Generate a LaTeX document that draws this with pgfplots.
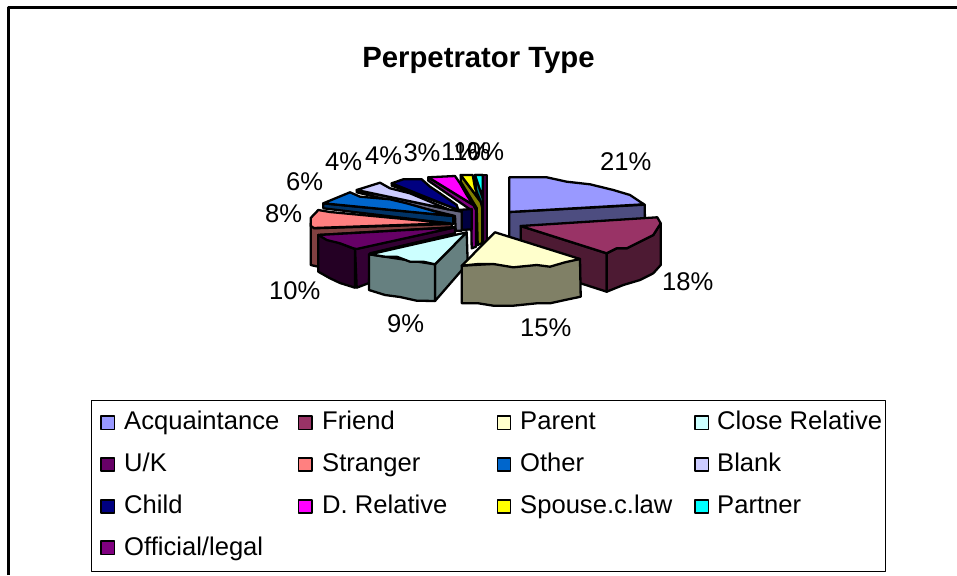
\documentclass[border=0pt]{standalone}
\usepackage{pgfplots}
\pgfplotsset{compat=1.18}
\usepackage{fontspec}
\setmainfont{Liberation Sans}
\definecolor{cA}{HTML}{9999FF}\definecolor{sA}{HTML}{4D4D80}
\definecolor{cB}{HTML}{993366}\definecolor{sB}{HTML}{4D1A33}
\definecolor{cC}{HTML}{FFFFCC}\definecolor{sC}{HTML}{808066}
\definecolor{cD}{HTML}{CCFFFF}\definecolor{sD}{HTML}{668080}
\definecolor{cE}{HTML}{660066}\definecolor{sE}{HTML}{330033}
\definecolor{cF}{HTML}{FF8080}\definecolor{sF}{HTML}{804040}
\definecolor{cG}{HTML}{0066CC}\definecolor{sG}{HTML}{003366}
\definecolor{cH}{HTML}{CCCCFF}\definecolor{sH}{HTML}{666680}
\definecolor{cI}{HTML}{000080}\definecolor{sI}{HTML}{000040}
\definecolor{cJ}{HTML}{FF00FF}\definecolor{sJ}{HTML}{800080}
\definecolor{cK}{HTML}{FFFF00}\definecolor{sK}{HTML}{808000}
\definecolor{cL}{HTML}{00FFFF}\definecolor{sL}{HTML}{008080}
\definecolor{cM}{HTML}{800080}\definecolor{sM}{HTML}{400040}
\begin{document}
\begin{tikzpicture}
\path[use as bounding box] (0,0) rectangle (957pt,575pt);
\begin{axis}[
  at={(0pt,0pt)},anchor=south west,
  width=957pt,height=575pt,scale only axis,
  xmin=0,xmax=957,ymin=0,ymax=575,y dir=reverse,
  hide axis,clip=true,
  every axis plot/.append style={line width=2.3pt,draw=black,line join=round,mark=none},
]
% frame and legend box
\addplot[line width=2.6pt,draw=black,no marks] coordinates {(8.5,575)(8.5,7.5)(957,7.5)};
\addplot[line width=1pt,draw=black,fill=white] coordinates {(91,400)(885,400)(885,571)(91,571)} -- cycle;

% Official/legal
\addplot[fill=sM] coordinates {(482.7,175)(487.3,175)(487.3,243)(482.7,243)} -- cycle;
% Partner
\addplot[fill=sL] coordinates {(475,175)(482.7,175)(482.7,243)(480,243)} -- cycle;
\addplot[fill=cL] coordinates {(475,175)(482.7,175)(482.7,198)} -- cycle;
% Spouse
\addplot[fill=sK] coordinates {(460.7,175)(480.7,201.7)(482.3,208)(482.3,243)(477.7,245)(476.7,208)(460.7,181.7)} -- cycle;
\addplot[fill=cK] coordinates {(460.7,175)(472.7,175)(475,188)(480.7,201.7)} -- cycle;
% D. Relative
\addplot[fill=sJ] coordinates {(428.3,177.3)(473.3,205)(476,210)(476,246.7)(471.7,248.3)(471,210)(428.3,180.7)} -- cycle;
\addplot[fill=cJ] coordinates {(428.3,177.3)(455,176)(460,183.3)(466.7,195)(473.3,205)} -- cycle;
% Child
\addplot[fill=sI] coordinates {(391.7,183.3)(458.3,210)(471.7,209)(471.7,229.3)(461.7,230)(461.7,210.7)(391.7,185.7)} -- cycle;
\addplot[fill=cI] coordinates {(391.7,183.3)(403.3,179.3)(421.7,179.3)(430,186.7)(440,193.3)(456.7,205)(458.3,210)} -- cycle;
% Blank
\addplot[fill=sH] coordinates {(356.7,190)(448.3,209.3)(461.7,211.7)(461.7,230.7)(455.7,230.7)(455,216)(356.7,192.3)} -- cycle;
\addplot[fill=cH] coordinates {(356.7,190)(380,182.7)(390,188.3)(410,193.3)(430,201.7)(448.3,209.3)} -- cycle;
% Other
\addplot[fill=sG] coordinates {(323.3,203.3)(450,215.7)(453.3,216)(453.3,224)(323.3,208.3)} -- cycle;
\addplot[fill=cG] coordinates {(323.3,203.3)(350,192.3)(360,196.7)(390,199.3)(406.7,203.3)(430,210)(450,215.7)} -- cycle;
% Stranger
\addplot[fill=sF] coordinates {(310.7,223.3)(314,228.3)(451.7,224)(451.7,227.3)(318.3,235)(318.3,266.7)(310.7,265)} -- cycle;
\addplot[fill=cF] coordinates {(318.3,210)(330,212)(450,223.3)(314,228)(310.7,226)(310.7,218)} -- cycle;
% U/K
\addplot[fill=sE] coordinates {(355,249)(455,227.3)(455,233.3)(370,253.3)(369,283)(356.7,287.7)} -- cycle;
\addplot[fill=sE!70!black] coordinates {(318.3,235)(355,249)(355,287.7)(340,283)(330,278.3)(318.3,271.7)} -- cycle;
\addplot[fill=cE] coordinates {(318.3,235)(455,227.3)(356.7,249)(353.3,248.3)(340,243.3)(326.7,240)} -- cycle;
% Close relative
\addplot[fill=sD] coordinates {(435,264.3)(466.7,232.3)(467.7,263.3)(435,301)} -- cycle;
\addplot[fill=sD] coordinates {(369,254.3)(435,264.3)(435,301)(416.7,300.7)(400,297)(385,295)(369,290)} -- cycle;
\addplot[fill=cD] coordinates {(466.7,232.3)(435,264.3)(423.3,261.7)(410,261.7)(396.7,256.7)(385,256.7)(370,254.3)} -- cycle;
% Acquaintance
\addplot[fill=sA] coordinates {(509.3,212)(644.7,204.7)(645.3,245)(509.3,250)} -- cycle;
\addplot[fill=cA] coordinates {(509.3,177.3)(546.7,177.3)(566.7,181.7)(590,184.3)(613.3,190)(630,195)(644,204.3)(509.3,212)} -- cycle;
% Friend
\addplot[fill=sB] coordinates {(520.7,226)(606.7,253.3)(606.7,291.7)(520.7,264)} -- cycle;
\addplot[fill=sB] coordinates {(606.7,253.3)(616.7,248.3)(626.7,248.3)(640,241.7)(653.3,235)(660.7,223.3)(660.7,265)(653.3,273.3)(640,280)(623.3,285)(606.7,291.7)} -- cycle;
\addplot[fill=cB] coordinates {(520.7,226)(657.3,217.3)(660.7,223.3)(653.3,235)(640,241.7)(626.7,248.3)(616.7,248.3)(606.7,253.3)} -- cycle;
% Parent
\addplot[fill=sC] coordinates {(461.7,265.7)(580,259)(580.7,296.7)(565,300)(550,303.3)(536.7,303.3)(513.3,305.7)(493.3,305.7)(478.3,303.3)(461.7,303.3)} -- cycle;
\addplot[fill=cC] coordinates {(495,232.3)(580,259)(565,262.3)(550,266.7)(536.7,265)(513.3,267.3)(493.3,264)(478.3,264)(461.7,265.7)} -- cycle;

% legend keys
\pgfplotsset{key/.style={only marks,mark=square*,mark size=6.6pt,mark options={fill=#1,draw=black,line width=1.3pt}}}
\addplot[key=cA] coordinates {(107.7,422.7)};
\addplot[key=cB] coordinates {(305.3,422.7)};
\addplot[key=cC] coordinates {(504,422.7)};
\addplot[key=cD] coordinates {(701.7,422.7)};
\addplot[key=cE] coordinates {(107.7,464.5)};
\addplot[key=cF] coordinates {(305.3,464.5)};
\addplot[key=cG] coordinates {(504,464.5)};
\addplot[key=cH] coordinates {(701.7,464.5)};
\addplot[key=cI] coordinates {(107.7,506.5)};
\addplot[key=cJ] coordinates {(305.3,506.5)};
\addplot[key=cK] coordinates {(504,506.5)};
\addplot[key=cL] coordinates {(701.7,506.5)};
\addplot[key=cM] coordinates {(107.7,547.7)};

\tikzset{lab/.style={font=\fontsize{25.6}{26}\selectfont,inner sep=0pt,anchor=base west}}
\node[font=\fontsize{29.3}{29}\selectfont\bfseries,inner sep=0pt,anchor=base] at (axis cs:478.5,68) {Perpetrator Type};
\node[lab] at (axis cs:600,170.7) {21\%};
\node[lab] at (axis cs:662,290) {18\%};
\node[lab] at (axis cs:520,336.7) {15\%};
\node[lab] at (axis cs:387,332) {9\%};
\node[lab] at (axis cs:269,299) {10\%};
\node[lab] at (axis cs:265,222.7) {8\%};
\node[lab] at (axis cs:286,190.7) {6\%};
\node[lab] at (axis cs:325,170.7) {4\%};
\node[lab] at (axis cs:365,164) {4\%};
\node[lab] at (axis cs:403.3,161.7) {3\%};
\node[lab] at (axis cs:441,160.7) {1\%};
\node[lab] at (axis cs:453,160.7) {1\%};
\node[lab] at (axis cs:467,160.7) {0\%};
\node[lab] at (axis cs:124,429) {Acquaintance};
\node[lab] at (axis cs:322,429) {Friend};
\node[lab] at (axis cs:520,429) {Parent};
\node[lab] at (axis cs:717,429) {Close Relative};
\node[lab] at (axis cs:124,471) {U/K};
\node[lab] at (axis cs:322,471) {Stranger};
\node[lab] at (axis cs:520,471) {Other};
\node[lab] at (axis cs:717,471) {Blank};
\node[lab] at (axis cs:124,513) {Child};
\node[lab] at (axis cs:322,513) {D. Relative};
\node[lab] at (axis cs:520,513) {Spouse.c.law};
\node[lab] at (axis cs:717,513) {Partner};
\node[lab] at (axis cs:124,555) {Official/legal};
\end{axis}
\end{tikzpicture}
\end{document}
